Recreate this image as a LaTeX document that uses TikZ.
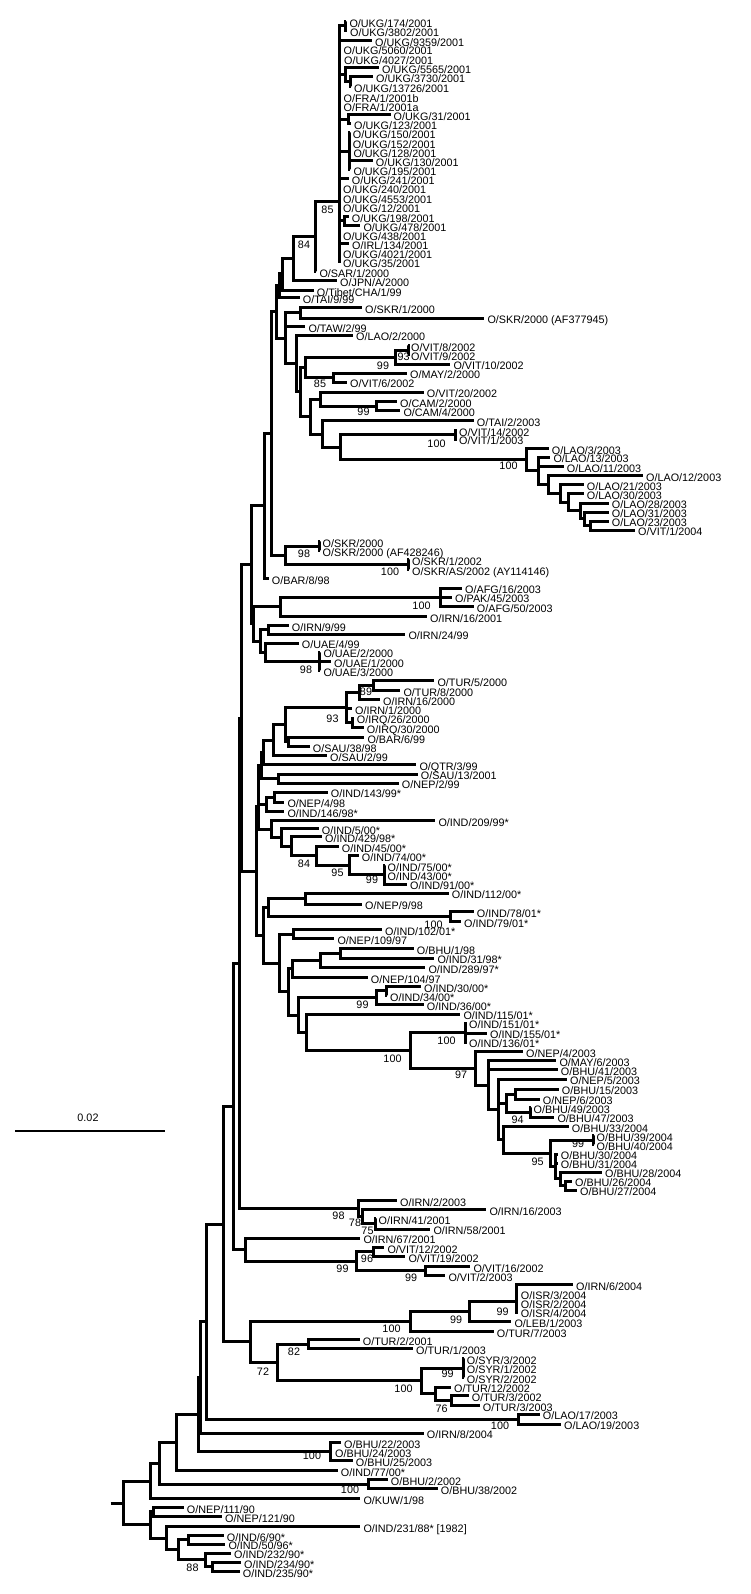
\documentclass[tikz,border=0pt]{standalone}
\usepackage{fontspec}
\setmainfont{Liberation Sans}
\begin{document}
\begin{tikzpicture}[x=1pt, y=-1pt,
    br/.style={line width=3pt},
    lf/.style={anchor=west, inner xsep=3pt, inner ysep=0pt, text height=11.7pt, text depth=0pt, font=\fontsize{10.8}{12}\selectfont},
    bs/.style={inner sep=0pt, font=\fontsize{10.8}{12}\selectfont}]
    \useasboundingbox (0,0) rectangle (750,1594);

    % UKG clade
    \node[lf] (u174) at (346.3,21.3) {O/UKG/174/2001};
    \node[lf] (u3802) at (347,30.3) {O/UKG/3802/2001};
    \node[lf] (u9359) at (372,40.3) {O/UKG/9359/2001};
    \node[lf] (u5060) at (340.5,49) {O/UKG/5060/2001};
    \node[lf] (u4027) at (341,59) {O/UKG/4027/2001};
    \node[lf] (u5565) at (379,68) {O/UKG/5565/2001};
    \node[lf] (u3730) at (373,77) {O/UKG/3730/2001};
    \node[lf] (u13726) at (351,86.3) {O/UKG/13726/2001};
    \node[lf] (fra1b) at (340.5,96.3) {O/FRA/1/2001b};
    \node[lf] (fra1a) at (340.5,105.3) {O/FRA/1/2001a};
    \node[lf] (u31) at (390.5,114.7) {O/UKG/31/2001};
    \node[lf] (u123) at (351,123.7) {O/UKG/123/2001};
    \node[lf] (u150) at (349.7,133) {O/UKG/150/2001};
    \node[lf] (u152) at (349.7,142.3) {O/UKG/152/2001};
    \node[lf] (u128) at (350.3,152) {O/UKG/128/2001};
    \node[lf] (u130) at (372.7,160.7) {O/UKG/130/2001};
    \node[lf] (u195) at (350.3,170) {O/UKG/195/2001};
    \node[lf] (u241) at (348.7,179) {O/UKG/241/2001};
    \node[lf] (u240) at (340,188) {O/UKG/240/2001};
    \node[lf] (u4553) at (340,198) {O/UKG/4553/2001};
    \node[lf] (u12) at (340,207) {O/UKG/12/2001};
    \node[lf] (u198) at (348.7,216.3) {O/UKG/198/2001};
    \node[lf] (u478) at (360.3,225.3) {O/UKG/478/2001};
    \node[lf] (u438) at (340,234.7) {O/UKG/438/2001};
    \node[lf] (irl134) at (349,243.7) {O/IRL/134/2001};
    \node[lf] (u4021) at (340,253) {O/UKG/4021/2001};
    \node[lf] (u35) at (340,262) {O/UKG/35/2001};
    \coordinate (nUa) at (345,25.8);
    \coordinate (nUc) at (350,81.7);
    \coordinate (nUb) at (345,74.8);
    \coordinate (nUd) at (348,119.2);
    \coordinate (nUe) at (349,151.5);
    \coordinate (nUf) at (344,220.8);
    \coordinate (nU) at (339.5,201.7);
    \draw[br] (nUa) |- (u174) (nUa) |- (u3802);
    \draw[br] (nUc) |- (u3730) (nUc) |- (u13726);
    \draw[br] (nUb) |- (u5565) (nUb) |- (nUc);
    \draw[br] (nUd) |- (u31) (nUd) |- (u123);
    \foreach \c in {u150,u152,u128,u130,u195} \draw[br] (nUe) |- (\c);
    \draw[br] (nUf) |- (u198) (nUf) |- (u478);
    \foreach \c in {nUa,u9359,u5060,u4027,nUb,fra1b,fra1a,nUd,nUe,u241,u240,u4553,u12,nUf,u438,irl134,u4021,u35}
        \draw[br] (nU) |- (\c);

    % upper backbone
    \node[lf] (sar1) at (316.3,271.3) {O/SAR/1/2000};
    \node[lf] (jpn) at (337,280.7) {O/JPN/A/2000};
    \node[lf] (tibet) at (313.7,290.7) {O/Tibet/CHA/1/99};
    \node[lf] (tai9) at (299.7,298) {O/TAI/9/99};
    \node[lf] (skr1) at (362,308) {O/SKR/1/2000};
    \node[lf] (skrAF) at (484.3,318) {O/SKR/2000 (AF377945)};
    \node[lf] (taw) at (305.3,326.3) {O/TAW/2/99};
    \node[lf] (lao2) at (353,335) {O/LAO/2/2000};
    \coordinate (n85) at (315,236.5);
    \coordinate (n84) at (293.3,258.6);
    \coordinate (V1) at (282,273.7);
    \coordinate (V2) at (279.3,285.8);
    \coordinate (nS1) at (300,313);
    \draw[br] (n85) |- (nU) (n85) |- (sar1);
    \draw[br] (n84) |- (n85) (n84) |- (jpn);
    \draw[br] (V1) |- (n84) (V1) |- (tibet);
    \draw[br] (V2) |- (V1) (V2) |- (tai9);
    \draw[br] (nS1) |- (skr1) (nS1) |- (skrAF);
    \node[bs] (b85) at (327.5,209.3) {85};
    \node[bs] (b84) at (304,245) {84};

    % south-east Asia
    \node[lf] (vit8) at (408,345.3) {O/VIT/8/2002};
    \node[lf] (vit9) at (408,354.7) {O/VIT/9/2002};
    \node[lf] (vit10) at (450.3,364) {O/VIT/10/2002};
    \node[lf] (may2) at (407,373) {O/MAY/2/2000};
    \node[lf] (vit6) at (347,382) {O/VIT/6/2002};
    \node[lf] (vit20) at (423.7,392) {O/VIT/20/2002};
    \node[lf] (cam2) at (397,401.3) {O/CAM/2/2000};
    \node[lf] (cam4) at (400.3,410.7) {O/CAM/4/2000};
    \node[lf] (tai2) at (473.7,420.7) {O/TAI/2/2003};
    \node[lf] (vit14) at (456,430.7) {O/VIT/14/2002};
    \node[lf] (vit1) at (456,439) {O/VIT/1/2003};
    \node[lf] (lao3) at (548.7,448.7) {O/LAO/3/2003};
    \node[lf] (lao13) at (550.3,457) {O/LAO/13/2003};
    \node[lf] (lao11) at (563.7,466.3) {O/LAO/11/2003};
    \node[lf] (lao12) at (643,475.7) {O/LAO/12/2003};
    \node[lf] (lao21) at (583.7,484.7) {O/LAO/21/2003};
    \node[lf] (lao30) at (583.7,493.7) {O/LAO/30/2003};
    \node[lf] (lao28) at (608.7,503) {O/LAO/28/2003};
    \node[lf] (lao31) at (608.7,512) {O/LAO/31/2003};
    \node[lf] (lao23) at (608.7,521) {O/LAO/23/2003};
    \node[lf] (vit1b) at (635,530) {O/VIT/1/2004};
    \coordinate (nV89) at (408.3,350);
    \coordinate (n93v) at (395,357);
    \coordinate (n85v) at (333,377.5);
    \coordinate (nCAM) at (376.7,406);
    \coordinate (nVIT14) at (455.7,434.8);
    \coordinate (nL23) at (590,525.5);
    \coordinate (nL31) at (584,518.8);
    \coordinate (nL28) at (580,510.9);
    \coordinate (nL30) at (568.3,502.3);
    \coordinate (nL21) at (560,493.5);
    \coordinate (nL12) at (548.3,484.6);
    \coordinate (nL13) at (538.3,470.8);
    \coordinate (nLAO) at (526.7,459.8);
    \coordinate (W2) at (305,367.3);
    \coordinate (W3) at (320,399);
    \coordinate (W4) at (340,447.3);
    \coordinate (W5) at (322,434);
    \coordinate (W6) at (310,416.5);
    \coordinate (W7) at (300,391.9);
    \coordinate (W1) at (296.7,363.5);
    \coordinate (V4) at (285,338.3);
    \coordinate (U) at (276,312);
    \draw[br] (nV89) |- (vit8) (nV89) |- (vit9);
    \draw[br] (n93v) |- (nV89) (n93v) |- (vit10);
    \draw[br] (n85v) |- (may2) (n85v) |- (vit6);
    \draw[br] (nCAM) |- (cam2) (nCAM) |- (cam4);
    \draw[br] (nVIT14) |- (vit14) (nVIT14) |- (vit1);
    \draw[br] (nL23) |- (lao23) (nL23) |- (vit1b);
    \draw[br] (nL31) |- (lao31) (nL31) |- (nL23);
    \draw[br] (nL28) |- (lao28) (nL28) |- (nL31);
    \draw[br] (nL30) |- (lao30) (nL30) |- (nL28);
    \draw[br] (nL21) |- (lao21) (nL21) |- (nL30);
    \draw[br] (nL12) |- (lao12) (nL12) |- (nL21);
    \draw[br] (nL13) |- (lao13) (nL13) |- (lao11) (nL13) |- (nL12);
    \draw[br] (nLAO) |- (lao3) (nLAO) |- (nL13);
    \draw[br] (W2) |- (n93v) (W2) |- (n85v);
    \draw[br] (W3) |- (vit20) (W3) |- (nCAM);
    \draw[br] (W4) |- (nVIT14) (W4) |- (nLAO);
    \draw[br] (W5) |- (tai2) (W5) |- (W4);
    \draw[br] (W6) |- (W3) (W6) |- (W5);
    \draw[br] (W7) |- (W2) (W7) |- (W6);
    \draw[br] (W1) |- (lao2) (W1) |- (W7);
    \draw[br] (V4) |- (nS1) (V4) |- (taw) (V4) |- (W1);
    \draw[br] (U) |- (V2) (U) |- (V4);
    \node[bs] (b93v) at (403.5,356.7) {93};
    \node[bs] (b99v) at (383,366) {99};
    \node[bs] (b85v) at (320,384) {85};
    \node[bs] (b99cam) at (363.5,411.7) {99};
    \node[bs] (b100vit) at (436.5,443.3) {100};
    \node[bs] (b100lao) at (508.5,466) {100};

    % SKR, BAR, AFG, IRN, UAE
    \node[lf] (skr2000) at (319.5,541.3) {O/SKR/2000};
    \node[lf] (skrAF4) at (319.5,550.7) {O/SKR/2000 (AF428246)};
    \node[lf] (skr12) at (409,559.7) {O/SKR/1/2002};
    \node[lf] (skrAS) at (409,569.7) {O/SKR/AS/2002 (AY114146)};
    \node[lf] (bar8) at (268.7,578.7) {O/BAR/8/98};
    \node[lf] (afg16) at (462,588) {O/AFG/16/2003};
    \node[lf] (pak45) at (452,597) {O/PAK/45/2003};
    \node[lf] (afg50) at (473.7,606.3) {O/AFG/50/2003};
    \node[lf] (irn16a) at (427,616.3) {O/IRN/16/2001};
    \node[lf] (irn9) at (288.7,625.3) {O/IRN/9/99};
    \node[lf] (irn24) at (405.3,634) {O/IRN/24/99};
    \node[lf] (uae4) at (298.7,643) {O/UAE/4/99};
    \node[lf] (uae2) at (320.3,652) {O/UAE/2/2000};
    \node[lf] (uae1) at (331,661.3) {O/UAE/1/2000};
    \node[lf] (uae3) at (320.3,670.7) {O/UAE/3/2000};
    \coordinate (nSK1) at (319,546);
    \coordinate (nSK2) at (408.3,564.7);
    \coordinate (nSKR98) at (285,555.3);
    \coordinate (T1) at (271.7,433.7);
    \coordinate (T2) at (264,505.9);
    \coordinate (nAFG) at (440.7,597.2);
    \coordinate (nA280) at (280,606.8);
    \coordinate (nIRN9) at (268.3,629.7);
    \coordinate (nUAE) at (319,661.4);
    \coordinate (nUAE4) at (265,652.2);
    \coordinate (n260) at (260,641);
    \coordinate (n253) at (253.3,623.9);
    \coordinate (T3) at (251.7,564.9);
    \draw[br] (nSK1) |- (skr2000) (nSK1) |- (skrAF4);
    \draw[br] (nSK2) |- (skr12) (nSK2) |- (skrAS);
    \draw[br] (nSKR98) |- (nSK1) (nSKR98) |- (nSK2);
    \draw[br] (T1) |- (U) (T1) |- (nSKR98);
    \draw[br] (T2) |- (T1) (T2) |- (bar8);
    \draw[br] (nAFG) |- (afg16) (nAFG) |- (pak45) (nAFG) |- (afg50);
    \draw[br] (nA280) |- (nAFG) (nA280) |- (irn16a);
    \draw[br] (nIRN9) |- (irn9) (nIRN9) |- (irn24);
    \draw[br] (nUAE) |- (uae2) (nUAE) |- (uae1) (nUAE) |- (uae3);
    \draw[br] (nUAE4) |- (uae4) (nUAE4) |- (nUAE);
    \draw[br] (n260) |- (nIRN9) (n260) |- (nUAE4);
    \draw[br] (n253) |- (nA280) (n253) |- (n260);
    \draw[br] (T3) |- (T2) (T3) |- (n253);
    \node[bs] (b98skr) at (304,553.3) {98};
    \node[bs] (b100skr) at (390,571.7) {100};
    \node[bs] (b100afg) at (421.5,606) {100};
    \node[bs] (b98uae) at (306,669.3) {98};

    % Middle East and India
    \node[lf] (tur5) at (434.3,680.7) {O/TUR/5/2000};
    \node[lf] (tur8) at (400.3,690.3) {O/TUR/8/2000};
    \node[lf] (irn16b) at (380,699.7) {O/IRN/16/2000};
    \node[lf] (irn1) at (352,708.7) {O/IRN/1/2000};
    \node[lf] (irq26) at (353.7,718) {O/IRQ/26/2000};
    \node[lf] (irq30) at (363.7,727.3) {O/IRQ/30/2000};
    \node[lf] (bar6) at (364.3,737.3) {O/BAR/6/99};
    \node[lf] (sau38) at (309.7,746.3) {O/SAU/38/98};
    \node[lf] (sau2) at (327,755.3) {O/SAU/2/99};
    \node[lf] (qtr3) at (416.3,764.7) {O/QTR/3/99};
    \node[lf] (sau13) at (417.7,774) {O/SAU/13/2001};
    \node[lf] (nep2) at (398.7,783) {O/NEP/2/99};
    \node[lf] (ind143) at (327.7,792) {O/IND/143/99*};
    \node[lf] (nep4) at (284.3,802) {O/NEP/4/98};
    \node[lf] (ind146) at (284.3,811.3) {O/IND/146/98*};
    \node[lf] (ind209) at (435.3,820.7) {O/IND/209/99*};
    \node[lf] (ind5) at (318.7,828.7) {O/IND/5/00*};
    \node[lf] (ind429) at (322,836.3) {O/IND/429/98*};
    \node[lf] (ind45) at (338.7,846.3) {O/IND/45/00*};
    \node[lf] (ind74) at (358.7,855.7) {O/IND/74/00*};
    \node[lf] (ind75) at (384.5,865.3) {O/IND/75/00*};
    \node[lf] (ind43) at (384.5,874.7) {O/IND/43/00*};
    \node[lf] (ind91) at (407,884) {O/IND/91/00*};
    \coordinate (n89) at (373.3,685.5);
    \coordinate (nT) at (359,692.6);
    \coordinate (nIRQ) at (352.7,722.7);
    \coordinate (n93) at (346.7,707.7);
    \coordinate (nB6) at (288.3,741.8);
    \coordinate (nA1) at (285,724.7);
    \coordinate (nA2) at (273.3,740);
    \coordinate (nA3) at (263.3,752.3);
    \coordinate (nS13) at (278.3,778.5);
    \coordinate (nA4) at (261,765.4);
    \coordinate (n143) at (274.3,797);
    \coordinate (n146) at (266,804);
    \coordinate (nA5) at (258.5,784.7);
    \coordinate (n99i) at (384,874.7);
    \coordinate (n95) at (349.3,865.2);
    \coordinate (n84i) at (316,855.7);
    \coordinate (nI3) at (291.7,846);
    \coordinate (nI2) at (281.7,837.3);
    \coordinate (nI1) at (271.7,829);
    \coordinate (nA6) at (258,806.9);
    \draw[br] (n89) |- (tur5) (n89) |- (tur8);
    \draw[br] (nT) |- (n89) (nT) |- (irn16b);
    \draw[br] (nIRQ) |- (irq26) (nIRQ) |- (irq30);
    \draw[br] (n93) |- (nT) (n93) |- (irn1) (n93) |- (nIRQ);
    \draw[br] (nB6) |- (bar6) (nB6) |- (sau38);
    \draw[br] (nA1) |- (n93) (nA1) |- (nB6);
    \draw[br] (nA2) |- (nA1) (nA2) |- (sau2);
    \draw[br] (nA3) |- (nA2) (nA3) |- (qtr3);
    \draw[br] (nS13) |- (sau13) (nS13) |- (nep2);
    \draw[br] (nA4) |- (nA3) (nA4) |- (nS13);
    \draw[br] (n143) |- (ind143) (n143) |- (nep4);
    \draw[br] (n146) |- (n143) (n146) |- (ind146);
    \draw[br] (nA5) |- (nA4) (nA5) |- (n146);
    \draw[br] (n99i) |- (ind75) (n99i) |- (ind43) (n99i) |- (ind91);
    \draw[br] (n95) |- (ind74) (n95) |- (n99i);
    \draw[br] (n84i) |- (ind45) (n84i) |- (n95);
    \draw[br] (nI3) |- (ind429) (nI3) |- (n84i);
    \draw[br] (nI2) |- (ind5) (nI2) |- (nI3);
    \draw[br] (nI1) |- (ind209) (nI1) |- (nI2);
    \draw[br] (nA6) |- (nA5) (nA6) |- (nI1);
    \node[bs] (b89) at (366,691.7) {89};
    \node[bs] (b93) at (332.5,718.3) {93};
    \node[bs] (b84i) at (304,863.3) {84};
    \node[bs] (b95) at (337.5,872.7) {95};
    \node[bs] (b99i) at (372,880) {99};

    % India, Nepal, Bhutan
    \node[lf] (ind112) at (448.7,893) {O/IND/112/00*};
    \node[lf] (nep9) at (362,904) {O/NEP/9/98};
    \node[lf] (ind78) at (473.7,911.3) {O/IND/78/01*};
    \node[lf] (ind79) at (461,921.3) {O/IND/79/01*};
    \node[lf] (ind102) at (382,929.7) {O/IND/102/01*};
    \node[lf] (nep109) at (334.3,938.7) {O/NEP/109/97};
    \node[lf] (bhu1) at (413.7,948.7) {O/BHU/1/98};
    \node[lf] (ind31) at (434.3,958) {O/IND/31/98*};
    \node[lf] (ind289) at (425.3,967.3) {O/IND/289/97*};
    \node[lf] (nep104) at (367.7,977.3) {O/NEP/104/97};
    \node[lf] (ind30) at (421,986.3) {O/IND/30/00*};
    \node[lf] (ind34) at (387,995.3) {O/IND/34/00*};
    \node[lf] (ind36) at (423.7,1004.7) {O/IND/36/00*};
    \node[lf] (ind115) at (460.3,1014) {O/IND/115/01*};
    \node[lf] (ind151) at (466,1023) {O/IND/151/01*};
    \node[lf] (ind155) at (487,1033) {O/IND/155/01*};
    \node[lf] (ind136) at (466,1042) {O/IND/136/01*};
    \node[lf] (nep4b) at (523,1051.3) {O/NEP/4/2003};
    \node[lf] (may6) at (556.3,1060.7) {O/MAY/6/2003};
    \node[lf] (bhu41) at (557.7,1069.7) {O/BHU/41/2003};
    \node[lf] (nep5) at (567,1079) {O/NEP/5/2003};
    \node[lf] (bhu15) at (558.7,1089) {O/BHU/15/2003};
    \node[lf] (nep6) at (539.7,1099) {O/NEP/6/2003};
    \node[lf] (bhu49) at (530.5,1107.3) {O/BHU/49/2003};
    \node[lf] (bhu47) at (554.3,1117) {O/BHU/47/2003};
    \node[lf] (bhu33) at (568.7,1126.3) {O/BHU/33/2004};
    \node[lf] (bhu39) at (593.5,1135.3) {O/BHU/39/2004};
    \node[lf] (bhu40) at (593.5,1144.7) {O/BHU/40/2004};
    \node[lf] (bhu30) at (557.7,1154) {O/BHU/30/2004};
    \node[lf] (bhu31) at (557.7,1163) {O/BHU/31/2004};
    \node[lf] (bhu28) at (602,1172) {O/BHU/28/2004};
    \node[lf] (bhu26) at (572,1181) {O/BHU/26/2004};
    \node[lf] (bhu27) at (577,1190) {O/BHU/27/2004};
    \coordinate (n112) at (305,898.5);
    \coordinate (n78) at (450,916.3);
    \coordinate (nM) at (268.3,907.4);
    \coordinate (n102) at (293.3,934.2);
    \coordinate (nBH) at (340,953.3);
    \coordinate (nB2) at (320,960.3);
    \coordinate (nB3) at (292.7,968.8);
    \coordinate (n30) at (386,990.8);
    \coordinate (n99b) at (376.7,997.7);
    \coordinate (n151) at (465.7,1032.5);
    \coordinate (nB15) at (515.7,1094);
    \coordinate (n94) at (530,1112.2);
    \coordinate (n94p) at (506.7,1103.1);
    \coordinate (n99c) at (593.3,1140);
    \coordinate (nR3) at (565,1185.5);
    \coordinate (nR2) at (560.7,1178.8);
    \coordinate (nR) at (555,1166.4);
    \coordinate (n95b) at (550,1153.2);
    \coordinate (nQ3) at (503.3,1139.8);
    \coordinate (nQ2) at (498.3,1109.4);
    \coordinate (nQ1) at (488.3,1085);
    \coordinate (n97) at (475,1068.2);
    \coordinate (n100a) at (410,1050.4);
    \coordinate (nK2) at (306.7,1032.2);
    \coordinate (nK1) at (298.3,1015);
    \coordinate (nL1) at (288.3,991.9);
    \coordinate (nL2) at (279.3,963);
    \coordinate (nLx) at (263.3,935.2);
    \coordinate (G2) at (256.7,871);
    \coordinate (T4) at (241.7,718);
    \draw[br] (n112) |- (ind112) (n112) |- (nep9);
    \draw[br] (n78) |- (ind78) (n78) |- (ind79);
    \draw[br] (nM) |- (n112) (nM) |- (n78);
    \draw[br] (n102) |- (ind102) (n102) |- (nep109);
    \draw[br] (nBH) |- (bhu1) (nBH) |- (ind31);
    \draw[br] (nB2) |- (nBH) (nB2) |- (ind289);
    \draw[br] (nB3) |- (nB2) (nB3) |- (nep104);
    \draw[br] (n30) |- (ind30) (n30) |- (ind34);
    \draw[br] (n99b) |- (n30) (n99b) |- (ind36);
    \draw[br] (n151) |- (ind151) (n151) |- (ind155) (n151) |- (ind136);
    \draw[br] (nB15) |- (bhu15) (nB15) |- (nep6);
    \draw[br] (n94) |- (bhu49) (n94) |- (bhu47);
    \draw[br] (n94p) |- (nB15) (n94p) |- (n94);
    \draw[br] (n99c) |- (bhu39) (n99c) |- (bhu40);
    \draw[br] (nR3) |- (bhu26) (nR3) |- (bhu27);
    \draw[br] (nR2) |- (bhu28) (nR2) |- (nR3);
    \draw[br] (nR) |- (bhu30) (nR) |- (bhu31) (nR) |- (nR2);
    \draw[br] (n95b) |- (n99c) (n95b) |- (nR);
    \draw[br] (nQ3) |- (bhu33) (nQ3) |- (n95b);
    \draw[br] (nQ2) |- (nep5) (nQ2) |- (n94p) (nQ2) |- (nQ3);
    \draw[br] (nQ1) |- (may6) (nQ1) |- (bhu41) (nQ1) |- (nQ2);
    \draw[br] (n97) |- (nep4b) (n97) |- (nQ1);
    \draw[br] (n100a) |- (n151) (n100a) |- (n97);
    \draw[br] (nK2) |- (ind115) (nK2) |- (n100a);
    \draw[br] (nK1) |- (n99b) (nK1) |- (nK2);
    \draw[br] (nL1) |- (nB3) (nL1) |- (nK1);
    \draw[br] (nL2) |- (n102) (nL2) |- (nL1);
    \draw[br] (nLx) |- (nM) (nLx) |- (nL2);
    \draw[br] (G2) |- (nA6) (G2) |- (nLx);
    \draw[br] (T4) |- (T3) (T4) |- (G2);
    \node[bs] (b100i78) at (433.5,924.3) {100};
    \node[bs] (b99b) at (362.5,1005) {99};
    \node[bs] (b100i151) at (446.5,1040.7) {100};
    \node[bs] (b100a) at (392.5,1058.3) {100};
    \node[bs] (b97) at (461,1075) {97};
    \node[bs] (b94) at (517.5,1119.3) {94};
    \node[bs] (b99c) at (578,1144) {99};
    \node[bs] (b95b) at (537.5,1161.7) {95};

    % Iran, Vietnam
    \node[lf] (irn2) at (397,1200.7) {O/IRN/2/2003};
    \node[lf] (irn16c) at (486.3,1209.7) {O/IRN/16/2003};
    \node[lf] (irn41) at (375.5,1218.7) {O/IRN/41/2001};
    \node[lf] (irn58) at (430.3,1229) {O/IRN/58/2001};
    \node[lf] (irn67) at (360.3,1238) {O/IRN/67/2001};
    \node[lf] (vit12) at (384.3,1247.3) {O/VIT/12/2002};
    \node[lf] (vit19) at (405.3,1256.3) {O/VIT/19/2002};
    \node[lf] (vit16) at (470.3,1266.3) {O/VIT/16/2002};
    \node[lf] (vit2) at (445.3,1275.3) {O/VIT/2/2003};
    \coordinate (n75i) at (375,1223.9);
    \coordinate (n78i) at (362.7,1216.8);
    \coordinate (n98i) at (358.3,1208.8);
    \coordinate (T5) at (239.3,963.4);
    \coordinate (n96) at (373.3,1251.8);
    \coordinate (n99h) at (425,1270.8);
    \coordinate (n99g) at (356.7,1261.3);
    \coordinate (nVg) at (245,1249.7);
    \coordinate (T6) at (233.3,1106.5);
    \draw[br] (n75i) |- (irn41) (n75i) |- (irn58);
    \draw[br] (n78i) |- (irn16c) (n78i) |- (n75i);
    \draw[br] (n98i) |- (irn2) (n98i) |- (n78i);
    \draw[br] (T5) |- (T4) (T5) |- (n98i);
    \draw[br] (n96) |- (vit12) (n96) |- (vit19);
    \draw[br] (n99h) |- (vit16) (n99h) |- (vit2);
    \draw[br] (n99g) |- (n96) (n99g) |- (n99h);
    \draw[br] (nVg) |- (irn67) (nVg) |- (n99g);
    \draw[br] (T6) |- (T5) (T6) |- (nVg);
    \node[bs] (b98i) at (338.5,1216) {98};
    \node[bs] (b78) at (355,1222.7) {78};
    \node[bs] (b75) at (367.5,1231) {75};
    \node[bs] (b96) at (367,1258.3) {96};
    \node[bs] (b99g) at (342.5,1268.3) {99};
    \node[bs] (b99h) at (411,1277.3) {99};

    % Israel, Turkey, Syria
    \node[lf] (irn6) at (573,1284.7) {O/IRN/6/2004};
    \node[lf] (isr3) at (517.7,1294) {O/ISR/3/2004};
    \node[lf] (isr2) at (517.7,1303) {O/ISR/2/2004};
    \node[lf] (isr4) at (517.7,1312) {O/ISR/4/2004};
    \node[lf] (leb1) at (511.3,1321.3) {O/LEB/1/2003};
    \node[lf] (tur7) at (493.7,1331.3) {O/TUR/7/2003};
    \node[lf] (tur2) at (359.7,1339.7) {O/TUR/2/2001};
    \node[lf] (tur1) at (413,1348.7) {O/TUR/1/2003};
    \node[lf] (syr3) at (463.7,1358.7) {O/SYR/3/2002};
    \node[lf] (syr1) at (463.7,1368) {O/SYR/1/2002};
    \node[lf] (syr2) at (463.7,1377.3) {O/SYR/2/2002};
    \node[lf] (tur12) at (451,1387) {O/TUR/12/2002};
    \node[lf] (tur3a) at (468.7,1395.3) {O/TUR/3/2002};
    \node[lf] (tur3b) at (479.7,1405.3) {O/TUR/3/2003};
    \node[lf] (lao17) at (539.7,1414) {O/LAO/17/2003};
    \node[lf] (lao19) at (561,1424) {O/LAO/19/2003};
    \coordinate (n99s) at (516,1301);
    \coordinate (n99r) at (469.3,1311);
    \coordinate (n100t) at (410,1321.2);
    \coordinate (n82) at (308.3,1344.2);
    \coordinate (n99y) at (463.3,1368);
    \coordinate (n76) at (451.7,1400.3);
    \coordinate (n435) at (435,1393.7);
    \coordinate (n100y) at (421.7,1380.9);
    \coordinate (n72) at (277.3,1362.5);
    \coordinate (n250) at (250,1341.9);
    \coordinate (T7) at (223.3,1224.2);
    \coordinate (nLAO17) at (518.3,1419);
    \coordinate (T8) at (206.7,1321.6);
    \draw[br] (n99s) |- (irn6) (n99s) |- (isr3) (n99s) |- (isr2) (n99s) |- (isr4);
    \draw[br] (n99r) |- (n99s) (n99r) |- (leb1);
    \draw[br] (n100t) |- (n99r) (n100t) |- (tur7);
    \draw[br] (n82) |- (tur2) (n82) |- (tur1);
    \draw[br] (n99y) |- (syr3) (n99y) |- (syr1) (n99y) |- (syr2);
    \draw[br] (n76) |- (tur3a) (n76) |- (tur3b);
    \draw[br] (n435) |- (tur12) (n435) |- (n76);
    \draw[br] (n100y) |- (n99y) (n100y) |- (n435);
    \draw[br] (n72) |- (n82) (n72) |- (n100y);
    \draw[br] (n250) |- (n100t) (n250) |- (n72);
    \draw[br] (T7) |- (T6) (T7) |- (n250);
    \draw[br] (nLAO17) |- (lao17) (nLAO17) |- (lao19);
    \draw[br] (T8) |- (T7) (T8) |- (nLAO17);
    \node[bs] (b99s) at (502.5,1311.7) {99};
    \node[bs] (b99r) at (456,1319.3) {99};
    \node[bs] (b100t) at (391.5,1328.3) {100};
    \node[bs] (b82) at (294,1351.7) {82};
    \node[bs] (b72) at (263,1371.7) {72};
    \node[bs] (b99y) at (447.5,1374) {99};
    \node[bs] (b100y) at (403.5,1388.3) {100};
    \node[bs] (b76) at (441.5,1408.3) {76};
    \node[bs] (b100l17) at (500,1426) {100};

    % basal lineages and root
    \node[lf] (irn8) at (423.7,1433) {O/IRN/8/2004};
    \node[lf] (bhu22) at (341,1442.3) {O/BHU/22/2003};
    \node[lf] (bhu24) at (332,1451.3) {O/BHU/24/2003};
    \node[lf] (bhu25) at (352.7,1460.7) {O/BHU/25/2003};
    \node[lf] (ind77) at (337.7,1470.3) {O/IND/77/00*};
    \node[lf] (bhu2) at (387.7,1479.7) {O/BHU/2/2002};
    \node[lf] (bhu38) at (437.7,1488.7) {O/BHU/38/2002};
    \node[lf] (kuw) at (360.3,1498.7) {O/KUW/1/98};
    \node[lf] (nep111) at (183.7,1507.3) {O/NEP/111/90};
    \node[lf] (nep121) at (222,1516.3) {O/NEP/121/90};
    \node[lf] (ind231) at (360.3,1526.3) {O/IND/231/88* [1982]};
    \node[lf] (ind6) at (223.7,1535.3) {O/IND/6/90*};
    \node[lf] (ind50) at (225.3,1544) {O/IND/50/96*};
    \node[lf] (ind232) at (231,1553) {O/IND/232/90*};
    \node[lf] (ind234) at (241,1562.3) {O/IND/234/90*};
    \node[lf] (ind235) at (239.7,1571.3) {O/IND/235/90*};
    \coordinate (nBHU22) at (330.7,1451.5);
    \coordinate (nBHU2) at (368.3,1484.2);
    \coordinate (X1) at (200,1377.3);
    \coordinate (X2) at (198.3,1414.4);
    \coordinate (X3) at (176,1442.4);
    \coordinate (X4) at (159.3,1463.3);
    \coordinate (X5) at (150,1481);
    \coordinate (N2) at (153.3,1511.8);
    \coordinate (N5) at (188.3,1539.7);
    \coordinate (N6) at (212.7,1566.8);
    \coordinate (N88) at (205,1559.9);
    \coordinate (N4) at (178.3,1549.8);
    \coordinate (N3) at (166.7,1538);
    \coordinate (N1) at (150,1524.9);
    \coordinate (root) at (123.3,1503);
    \coordinate (stub) at (110.7,1503);
    \draw[br] (nBHU22) |- (bhu22) (nBHU22) |- (bhu24) (nBHU22) |- (bhu25);
    \draw[br] (nBHU2) |- (bhu2) (nBHU2) |- (bhu38);
    \draw[br] (X1) |- (T8) (X1) |- (irn8);
    \draw[br] (X2) |- (X1) (X2) |- (nBHU22);
    \draw[br] (X3) |- (X2) (X3) |- (ind77);
    \draw[br] (X4) |- (X3) (X4) |- (nBHU2);
    \draw[br] (X5) |- (X4) (X5) |- (kuw);
    \draw[br] (N2) |- (nep111) (N2) |- (nep121);
    \draw[br] (N5) |- (ind6) (N5) |- (ind50);
    \draw[br] (N6) |- (ind234) (N6) |- (ind235);
    \draw[br] (N88) |- (ind232) (N88) |- (N6);
    \draw[br] (N4) |- (N5) (N4) |- (N88);
    \draw[br] (N3) |- (ind231) (N3) |- (N4);
    \draw[br] (N1) |- (N2) (N1) |- (N3);
    \draw[br] (root) |- (X5) (root) |- (N1);
    \draw[br] (stub) -- (root);
    \node[bs] (b100b22) at (312,1456) {100};
    \node[bs] (b100b2) at (350,1490) {100};
    \node[bs] (b88) at (192.5,1567.7) {88};

    % scale bar
    \coordinate (sb0) at (15,1131);
    \coordinate (sb1) at (165,1131);
    \draw[line width=1.6pt] (sb0) -- (sb1);
    \node[bs] (sblab) at (88,1118) {0.02};
\end{tikzpicture}
\end{document}
